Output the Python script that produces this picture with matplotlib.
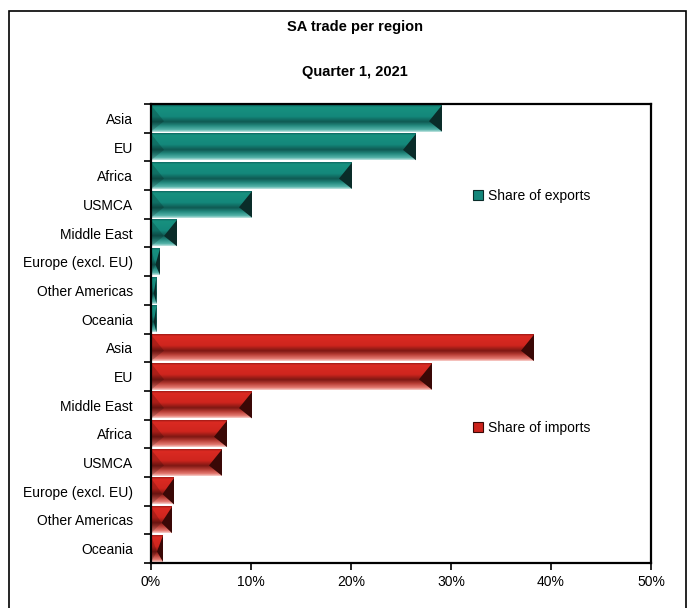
import matplotlib
matplotlib.use("Agg")
import matplotlib.pyplot as plt
import numpy as np
from matplotlib.colors import LinearSegmentedColormap
from matplotlib.patches import Polygon, Rectangle, Patch
from matplotlib.ticker import FixedLocator, FuncFormatter

plt.rcParams['font.family'] = ['Liberation Sans', 'DejaVu Sans']

title = "SA trade per region"
subtitle = "Quarter 1, 2021"
regions_exports = ["Asia", "EU", "Africa", "USMCA", "Middle East",
                   "Europe (excl. EU)", "Other Americas", "Oceania"]
share_exports = [29.1, 26.5, 20.1, 10.1, 2.6, 0.9, 0.55, 0.55]
regions_imports = ["Asia", "EU", "Middle East", "Africa", "USMCA",
                   "Europe (excl. EU)", "Other Americas", "Oceania"]
share_imports = [38.3, 28.1, 10.1, 7.6, 7.1, 2.3, 2.1, 1.2]
x_ticks = [0, 10, 20, 30, 40, 50]
series_names = ["Share of exports", "Share of imports"]

W, H = 691, 608
fig = plt.figure(figsize=(W / 100, H / 100), dpi=100)
ax = fig.add_axes([151 / W, 45 / H, 500 / W, 459 / H])

teal_cmap = LinearSegmentedColormap.from_list("teal", [
    (0.0, "#0e6a62"), (0.07, "#17917f"), (0.42, "#14887b"),
    (0.62, "#0f5a53"), (0.76, "#22877c"), (0.92, "#55b3a9"), (1.0, "#c0e4e0")])
red_cmap = LinearSegmentedColormap.from_list("red", [
    (0.0, "#a21b16"), (0.07, "#db2a22"), (0.42, "#cf251e"),
    (0.62, "#7e1813"), (0.76, "#b63c34"), (0.92, "#e47a71"), (1.0, "#f7cdc9")])

grad = np.linspace(0, 1, 64).reshape(-1, 1)
h = 0.46
bev = 1.3

def draw_bars(values, offset, cmap, endcolor):
    for i, v in enumerate(values):
        y = offset + i
        ax.imshow(grad, cmap=cmap, aspect='auto', extent=(0, v, y + h, y - h),
                  interpolation='bilinear', zorder=2)
        b = min(bev, v / 2)
        apex = y + 0.1
        ax.add_patch(Polygon([(v, y - h), (v, y + h), (v - b, apex)],
                             closed=True, facecolor=endcolor, edgecolor='none', zorder=3))
        ax.add_patch(Polygon([(0, y - h), (0, y + h), (b, apex)],
                             closed=True, facecolor='black', alpha=0.18,
                             edgecolor='none', zorder=3))

draw_bars(share_exports, 0, teal_cmap, "#0a2c29")
draw_bars(share_imports, len(share_exports), red_cmap, "#3a0806")

labels = regions_exports + regions_imports
n = len(labels)
ax.set_xlim(0, 50)
ax.set_ylim(n - 0.5, -0.5)
ax.set_yticks(range(n))
ax.set_yticklabels(labels, fontsize=10)
ax.yaxis.set_minor_locator(FixedLocator(np.arange(-0.5, n, 1.0)))
ax.tick_params(axis='y', which='major', length=0, pad=13)
ax.tick_params(axis='y', which='minor', length=5, width=1.2, direction='out')
ax.set_xticks(x_ticks)
ax.xaxis.set_major_formatter(FuncFormatter(lambda x, p: f"{x:.0f}%"))
ax.tick_params(axis='x', length=5, width=1.2, direction='out', labelsize=10, pad=4)
for s in ax.spines.values():
    s.set_linewidth(1.6)
    s.set_color('black')

h1 = Patch(facecolor="#13867a", edgecolor="#0a2c29", linewidth=0.8)
h2 = Patch(facecolor="#cc231c", edgecolor="#3a0806", linewidth=0.8)
leg1 = fig.legend([h1], [series_names[0]], loc='center left',
                  bbox_to_anchor=(473 / W, 1 - 196 / H), frameon=False,
                  fontsize=10, handlelength=0.7, handleheight=0.7,
                  handletextpad=0.4, borderpad=0, borderaxespad=0)
leg2 = fig.legend([h2], [series_names[1]], loc='center left',
                  bbox_to_anchor=(473 / W, 1 - 428 / H), frameon=False,
                  fontsize=10, handlelength=0.7, handleheight=0.7,
                  handletextpad=0.4, borderpad=0, borderaxespad=0)

fig.text(355 / W, 1 - 27 / H, title, ha='center', va='center',
         fontsize=10.5, fontweight='bold')
fig.text(355 / W, 1 - 72 / H, subtitle, ha='center', va='center',
         fontsize=10.5, fontweight='bold')

fig.patches.append(Rectangle((9 / W, -0.02), (686 - 9) / W, 1.02 - 11 / H,
                             transform=fig.transFigure, fill=False,
                             edgecolor='black', linewidth=1.2))

fig.savefig("out.png", dpi=100)
